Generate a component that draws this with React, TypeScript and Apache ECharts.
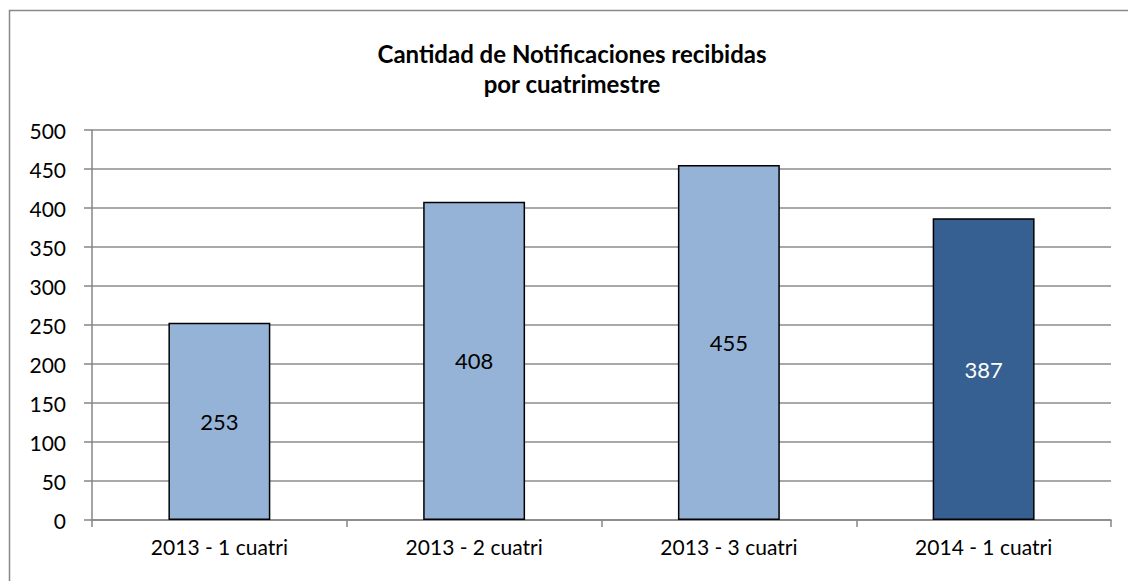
import React, { useEffect, useRef } from "react";
import * as echarts from "echarts";

const titleLines = ["Cantidad de Notificaciones recibidas", "por cuatrimestre"];
const categories = ["2013 - 1 cuatri", "2013 - 2 cuatri", "2013 - 3 cuatri", "2014 - 1 cuatri"];
const values = [253, 408, 455, 387];
const barColors = ["#95B3D7", "#95B3D7", "#95B3D7", "#376092"];
const labelColors = ["#000000", "#000000", "#000000", "#FFFFFF"];

const FONT = "Lato, Carlito, Calibri, sans-serif";

export default function App() {
  const ref = useRef<HTMLDivElement>(null);
  useEffect(() => {
    document.body.style.margin = "0";
    if (!ref.current) return;
    const chart = echarts.init(ref.current, undefined, { renderer: "svg" });
    chart.setOption({
      animation: false,
      backgroundColor: "#FFFFFF",
      title: {
        text: titleLines.join("\n"),
        left: 567,
        textAlign: "center",
        top: 33,
        textStyle: {
          fontFamily: FONT,
          fontWeight: "bold",
          fontSize: 24,
          lineHeight: 30,
          color: "#000000",
        },
      },
      graphic: [
        {
          type: "rect",
          shape: { x: 9.5, y: 10.5, width: 1300, height: 700 },
          style: { fill: "none", stroke: "#888888", lineWidth: 1.5 },
          silent: true,
          z: 100,
        },
      ],
      grid: { left: 92, right: 17, top: 130, bottom: 61 },
      xAxis: {
        type: "category",
        data: categories,
        axisLine: { lineStyle: { color: "#868686", width: 1.5 } },
        axisTick: { show: true, alignWithLabel: false, length: 7, lineStyle: { color: "#868686", width: 1.5 } },
        axisLabel: { fontFamily: FONT, fontSize: 21, color: "#000000", margin: 16 },
      },
      yAxis: {
        type: "value",
        min: 0,
        max: 500,
        interval: 50,
        axisLine: { show: true, lineStyle: { color: "#868686", width: 1.5 } },
        axisTick: { show: true, inside: false, length: 8, lineStyle: { color: "#868686", width: 1.5 } },
        axisLabel: { fontFamily: FONT, fontSize: 21, color: "#000000", margin: 26 },
        splitLine: { show: true, lineStyle: { color: "#8C8C8C", width: 1.5 } },
      },
      series: [
        {
          type: "bar",
          barWidth: "40%",
          data: values.map((v, i) => ({
            value: v,
            itemStyle: { color: barColors[i], borderColor: "#000000", borderWidth: 1.5 },
            label: { color: labelColors[i] },
          })),
          label: {
            show: true,
            position: "inside",
            fontFamily: FONT,
            fontSize: 22,
          },
        },
      ],
    });
    return () => chart.dispose();
  }, []);
  return <div ref={ref} style={{ width: 1128, height: 581 }} />;
}
